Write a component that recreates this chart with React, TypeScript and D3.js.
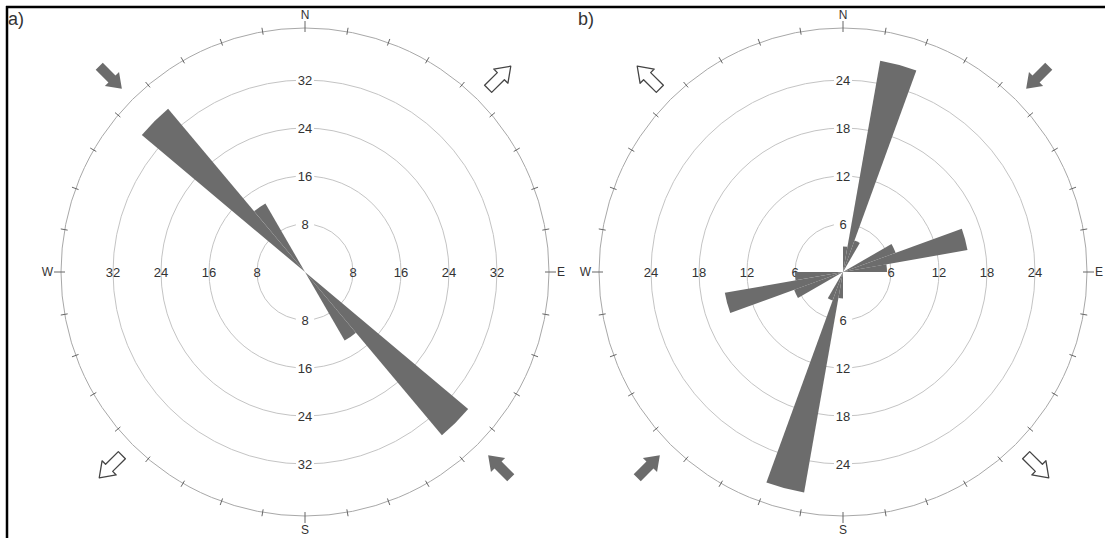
import React, { useEffect, useRef } from 'react';
import * as d3 from 'd3';

// sector start angles (deg, clockwise from N), 10 degree bins
const sectorsA = [130, 140, 310, 320];
const countsA = [35.5, 13.2, 35.5, 13.2];
const ringsA = [8, 16, 24, 32];

const sectorsB = [0, 10, 20, 60, 70, 80, 180, 190, 200, 240, 250, 260];
const countsB = [3.2, 26.8, 4.2, 7, 15.8, 5.5, 3.3, 28, 3.8, 6.5, 15, 6];
const ringsB = [6, 12, 18, 24];

// stress arrows: position angle and kind ('in' = filled toward centre, 'out' = open outward)
const arrowAnglesA = [315, 45, 225, 135];
const arrowKindsA = ['in', 'out', 'out', 'in'];
const arrowAnglesB = [315, 45, 225, 135];
const arrowKindsB = ['out', 'in', 'in', 'out'];

const cardinals = ['N', 'E', 'S', 'W'];

const W = 1105;
const H = 538;

const App = () => {
    const svgRef = useRef(null);

    useEffect(() => {
        const svg = d3.select(svgRef.current);
        svg.selectAll('*').remove();

        // frame
        svg.append('line').attr('x1', 7).attr('y1', 6).attr('x2', 7).attr('y2', H)
            .attr('stroke', '#000').attr('stroke-width', 2.5);
        svg.append('line').attr('x1', 6).attr('y1', 7).attr('x2', W).attr('y2', 7)
            .attr('stroke', '#000').attr('stroke-width', 2.5);

        const outerR = 244;
        const ringR = 192;

        const drawRose = (cx, cy, sectors, counts, rings, arrowAngles, arrowKinds, tag, tagX) => {
            const g = svg.append('g').attr('transform', `translate(${cx},${cy})`);
            const r = d3.scaleLinear().domain([0, rings[rings.length - 1]]).range([0, ringR]);

            // rings
            rings.forEach(v => {
                g.append('circle').attr('r', r(v)).attr('fill', 'none')
                    .attr('stroke', '#c4c4c4').attr('stroke-width', 1);
            });

            // outer circle + ticks
            g.append('circle').attr('r', outerR).attr('fill', 'none')
                .attr('stroke', '#a8a8a8').attr('stroke-width', 1);
            d3.range(0, 360, 10).forEach(a => {
                const rad = a * Math.PI / 180;
                const card = a % 90 === 0;
                const r0 = card ? outerR - 4 : outerR - 3;
                const r1 = card ? outerR + 7 : outerR + 4;
                g.append('line')
                    .attr('x1', r0 * Math.sin(rad)).attr('y1', -r0 * Math.cos(rad))
                    .attr('x2', r1 * Math.sin(rad)).attr('y2', -r1 * Math.cos(rad))
                    .attr('stroke', '#666').attr('stroke-width', 1);
            });

            // cardinal letters
            cardinals.forEach((c, i) => {
                const t = g.append('text').text(c)
                    .attr('font-family', 'Liberation Sans, Arial, sans-serif')
                    .attr('font-size', 12).attr('fill', '#333');
                if (i === 0) t.attr('x', 0).attr('y', -outerR - 9).attr('text-anchor', 'middle');
                if (i === 1) t.attr('x', outerR + 8).attr('y', 4).attr('text-anchor', 'start');
                if (i === 2) t.attr('x', 0).attr('y', outerR + 18).attr('text-anchor', 'middle');
                if (i === 3) t.attr('x', -outerR - 8).attr('y', 4).attr('text-anchor', 'end');
            });

            // ring labels with white patch
            rings.forEach(v => {
                [[0, -1], [0, 1], [-1, 0], [1, 0]].forEach(([dx, dy]) => {
                    const x = dx * r(v);
                    const y = dy * r(v);
                    if (dy !== 0) {
                        g.append('rect').attr('x', x - 9).attr('y', y - 7).attr('width', 18).attr('height', 14)
                            .attr('fill', '#fff');
                    }
                    g.append('text').text(v)
                        .attr('x', x).attr('y', y + 5)
                        .attr('text-anchor', 'middle')
                        .attr('font-family', 'Liberation Sans, Arial, sans-serif')
                        .attr('font-size', 13).attr('fill', '#333');
                });
            });

            // petals
            const arc = d3.arc().innerRadius(0);
            sectors.forEach((s, i) => {
                g.append('path')
                    .attr('d', arc({
                        startAngle: s * Math.PI / 180,
                        endAngle: (s + 10) * Math.PI / 180,
                        outerRadius: r(counts[i]),
                    }))
                    .attr('fill', '#6c6c6c');
            });

            // block arrows
            const arrowPath = 'M0,-16 L10,-2 L5,-2 L5,16 L-5,16 L-5,-2 L-10,-2 Z';
            arrowAngles.forEach((a, i) => {
                const rad = a * Math.PI / 180;
                const ar = 275;
                const x = ar * Math.sin(rad);
                const y = -ar * Math.cos(rad);
                const inward = arrowKinds[i] === 'in';
                g.append('path')
                    .attr('d', arrowPath)
                    .attr('transform', `translate(${x},${y}) rotate(${inward ? a + 180 : a})`)
                    .attr('fill', inward ? '#6c6c6c' : '#fff')
                    .attr('stroke', inward ? 'none' : '#444')
                    .attr('stroke-width', 1.3)
                    .attr('stroke-linejoin', 'round');
            });

            svg.append('text').text(tag)
                .attr('x', tagX).attr('y', 25)
                .attr('font-family', 'Liberation Sans, Arial, sans-serif')
                .attr('font-size', 18).attr('fill', '#333');
        };

        drawRose(305, 272, sectorsA, countsA, ringsA, arrowAnglesA, arrowKindsA, 'a)', 8);
        drawRose(843, 272, sectorsB, countsB, ringsB, arrowAnglesB, arrowKindsB, 'b)', 578);
    }, []);

    return (
        <svg ref={svgRef} width={W} height={H}
            style={{ position: 'absolute', left: 0, top: 0, background: '#fff' }}></svg>
    );
};

export default App;
